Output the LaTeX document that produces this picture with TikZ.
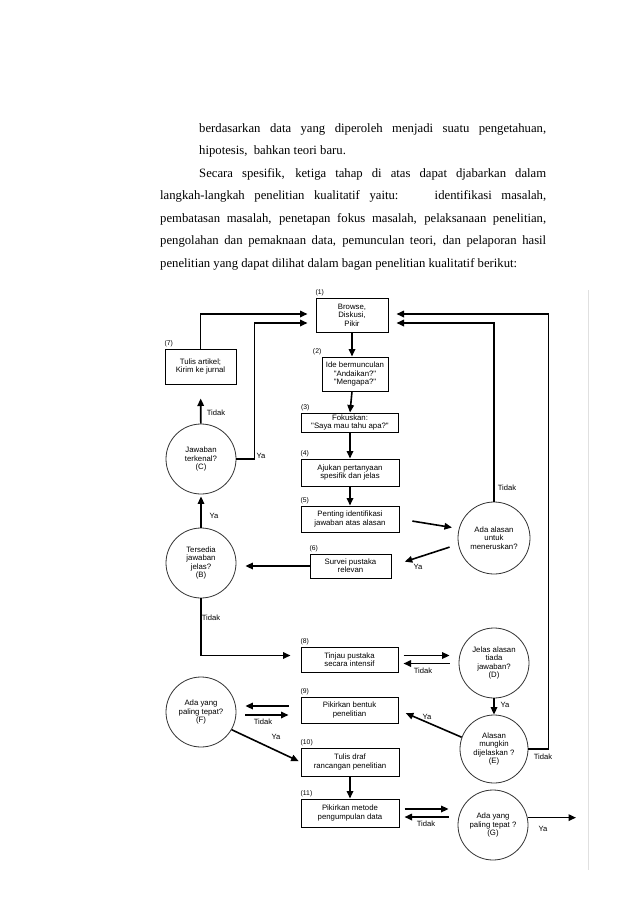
\documentclass[tikz,border=0pt]{standalone}
\usepackage{fontspec}
\setmainfont{Liberation Serif}
\newfontfamily\diagfont{Liberation Sans}
\usetikzlibrary{arrows.meta}

\tikzset{
  kotak/.style={draw, line width=1pt, align=center, inner sep=1pt,
    font=\diagfont\fontsize{7.8}{8.4}\selectfont},
  bulat/.style={draw=black!80, circle, line width=0.8pt, align=center, inner sep=0pt,
    minimum size=70pt, font=\diagfont\fontsize{7.8}{8.4}\selectfont},
  panah/.style={->, line width=1.6pt},
  ket/.style={font=\diagfont\fontsize{7.6}{8}\selectfont, inner sep=0pt},
  nomor/.style={font=\diagfont\fontsize{6.8}{7}\selectfont, inner sep=0pt, anchor=south west, yshift=1pt},
  baris/.style={anchor=base west, inner sep=0pt, font=\fontsize{12.7}{15}\selectfont}
}

\begin{document}
\begin{tikzpicture}[x=1pt, y=-1pt, >={Triangle[length=7.5pt,width=6.5pt]}]

    % Bingkai halaman
    \useasboundingbox (0,0) rectangle (638,903);
    \fill[white] (0,0) rectangle (638,903);

    % Paragraf teks di atas bagan
    \node[baris] (l1) at (199,132) {\makebox[347pt][s]{berdasarkan data yang diperoleh menjadi suatu pengetahuan,}};
    \node[baris] (l2) at (199,154.5) {hipotesis,\ \ bahkan teori baru.};
    \node[baris] (l3) at (199,177) {\makebox[347pt][s]{Secara spesifik, ketiga tahap di atas dapat djabarkan dalam}};
    \node[baris] (l4) at (160,199.5) {\makebox[386pt][s]{langkah-langkah penelitian kualitatif yaitu: \ \ identifikasi masalah,}};
    \node[baris] (l5) at (160,222) {\makebox[386pt][s]{pembatasan masalah, penetapan fokus masalah, pelaksanaan penelitian,}};
    \node[baris] (l6) at (160,244.5) {\makebox[386pt][s]{pengolahan dan pemaknaan data, pemunculan teori, dan pelaporan hasil}};
    \node[baris] (l7) at (160,267) {penelitian yang dapat dilihat dalam bagan penelitian kualitatif berikut:};

    % Garis tepi gambar
    \draw[black!12, line width=1pt] (588,290) -- (588,870);

    % Kotak langkah (1)-(11)
    \node[kotak, minimum width=72pt, minimum height=34pt] (b1) at (352,315) {Browse,\\ Diskusi,\\ Pikir};
    \node[kotak, minimum width=66pt, minimum height=34pt] (b2) at (355,374) {Ide bermunculan\\ "Andaikan?"\\ "Mengapa?"};
    \node[kotak, minimum width=97pt, minimum height=19pt] (b3) at (350,422.5) {Fokuskan:\\ "Saya mau tahu apa?"};
    \node[kotak, minimum width=98pt, minimum height=27pt] (b4) at (350,472.5) {Ajukan pertanyaan\\ spesifik dan jelas};
    \node[kotak, minimum width=98pt, minimum height=26pt] (b5) at (350,519) {Penting identifikasi\\ jawaban atas alasan};
    \node[kotak, minimum width=81pt, minimum height=24pt] (b6) at (350.5,566) {Survei pustaka\\ relevan};
    \node[kotak, minimum width=71pt, minimum height=35pt] (b7) at (200.5,366.5) {Tulis artikel;\\ Kirim ke jurnal};
    \node[kotak, minimum width=97pt, minimum height=25pt] (b8) at (349.5,659.5) {Tinjau pustaka\\ secara intensif};
    \node[kotak, minimum width=97pt, minimum height=26pt] (b9) at (349.5,710) {Pikirkan bentuk\\ penelitian};
    \node[kotak, minimum width=98pt, minimum height=28pt] (b10) at (350,762) {Tulis draf\\ rancangan penelitian};
    \node[kotak, minimum width=98pt, minimum height=28pt] (b11) at (350,813) {Pikirkan metode\\ pengumpulan data};

    % Nomor langkah
    \node[nomor] (n1) at (b1.north west) {(1)};
    \node[nomor, anchor=south east] (n2) at (b2.north west) {(2)};
    \node[nomor] (n3) at (b3.north west) {(3)};
    \node[nomor] (n4) at (b4.north west) {(4)};
    \node[nomor] (n5) at (b5.north west) {(5)};
    \node[nomor] (n6) at (b6.north west) {(6)};
    \node[nomor] (n7) at (b7.north west) {(7)};
    \node[nomor] (n8) at (b8.north west) {(8)};
    \node[nomor] (n9) at (b9.north west) {(9)};
    \node[nomor] (n10) at (b10.north west) {(10)};
    \node[nomor] (n11) at (b11.north west) {(11)};

    % Lingkaran keputusan
    \node[bulat, minimum size=72pt] (A) at (494,538) {Ada alasan\\ untuk\\ meneruskan?};
    \node[bulat] (B) at (201,563) {Tersedia\\ jawaban\\ jelas?\\ (B)};
    \node[bulat] (C) at (201,459) {Jawaban\\ terkenal?\\ (C)};
    \node[bulat] (D) at (494,663) {Jelas alasan\\ tiada\\ jawaban?\\ (D)};
    \node[bulat, minimum size=68pt] (E) at (494,749) {Alasan\\ mungkin\\ dijelaskan ?\\ (E)};
    \node[bulat] (F) at (201,712) {Ada yang\\ paling tepat?\\ (F)};
    \node[bulat] (G) at (493,825) {Ada yang\\ paling tepat ?\\ (G)};
    \coordinate (keluar) at (576,818);

    % Alur utama ke bawah
    \draw[panah] (b1.south) -- (b1.south |- b2.north);
    \draw[panah] (b1.south |- b2.south) -- (b3.north);
    \draw[panah] (b3) -- (b4);
    \draw[panah] (b4) -- (b5);
    \draw[panah] (b10) -- (b11);

    % Cabang kanan
    \draw[panah, shorten <=13pt, shorten >=7pt] (b5.east) -- (A.165);
    \draw[panah, shorten <=9pt, shorten >=14pt] (A.190) -- (b6.east);
    \draw[panah, shorten >=8pt] (A.north) |- ([yshift=-8pt]b1.east);
    \draw[panah, shorten <=5pt, shorten >=9pt] ([yshift=4pt]b8.east) -- ([yshift=4pt]b8.east -| D.west);
    \draw[panah, shorten <=9pt, shorten >=5pt] ([yshift=-4pt]b8.east -| D.west) -- ([yshift=-4pt]b8.east);
    \draw[panah] (D) -- (E);
    \draw[panah, shorten >=8pt] (E.160) -- (b9.east);
    \draw[panah, shorten >=8pt] (E.east) -- ++(20,0) |- ([yshift=1pt]b1.east);
    \draw[panah, shorten <=5pt, shorten >=9pt] ([yshift=4pt]b11.east) -- ([yshift=4pt]b11.east -| G.west);
    \draw[panah, shorten <=9pt, shorten >=5pt] ([yshift=-4pt]b11.east -| G.west) -- ([yshift=-4pt]b11.east);
    \draw[panah] (G.12) -- (G.12 -| keluar);

    % Cabang kiri
    \draw[panah, shorten >=9pt] (b6.west) -- (b6.west -| B.east);
    \draw[panah, shorten >=2pt] (B) -- (C);
    \draw[panah, shorten >=14pt] (C) -- (b7);
    \draw[panah, shorten >=8pt] (b7.north) |- ([yshift=1pt]b1.west);
    \draw[panah, shorten >=8pt] (C.east) -- ++(18,0) |- ([yshift=-8pt]b1.west);
    \draw[panah, shorten >=10pt] (B.south) |- ([yshift=4pt]b8.west);
    \draw[panah, shorten <=12pt, shorten >=9pt] ([yshift=4pt]b9.west) -- ([yshift=4pt]b9.west -| F.east);
    \draw[panah, shorten <=9pt, shorten >=12pt] ([yshift=-5pt]b9.west -| F.east) -- ([yshift=-5pt]b9.west);
    \draw[panah, shorten >=2pt] (F.-30) -- (b10.west);

    % Keterangan Ya / Tidak
    \node[ket] (tC) at (216,413) {Tidak};
    \node[ket] (yC) at (261,456) {Ya};
    \node[ket] (yB) at (214,516) {Ya};
    \node[ket] (tB) at (211,618) {Tidak};
    \node[ket] (tA) at (507,488) {Tidak};
    \node[ket] (yA) at (418,567) {Ya};
    \node[ket] (tD) at (423,671) {Tidak};
    \node[ket] (yD) at (505,705) {Ya};
    \node[ket] (yE) at (427,717) {Ya};
    \node[ket] (tE) at (543,757) {Tidak};
    \node[ket] (tF) at (263,722) {Tidak};
    \node[ket] (yF) at (276,737) {Ya};
    \node[ket] (tG) at (426,824) {Tidak};
    \node[ket] (yG) at (543,829) {Ya};

\end{tikzpicture}
\end{document}
